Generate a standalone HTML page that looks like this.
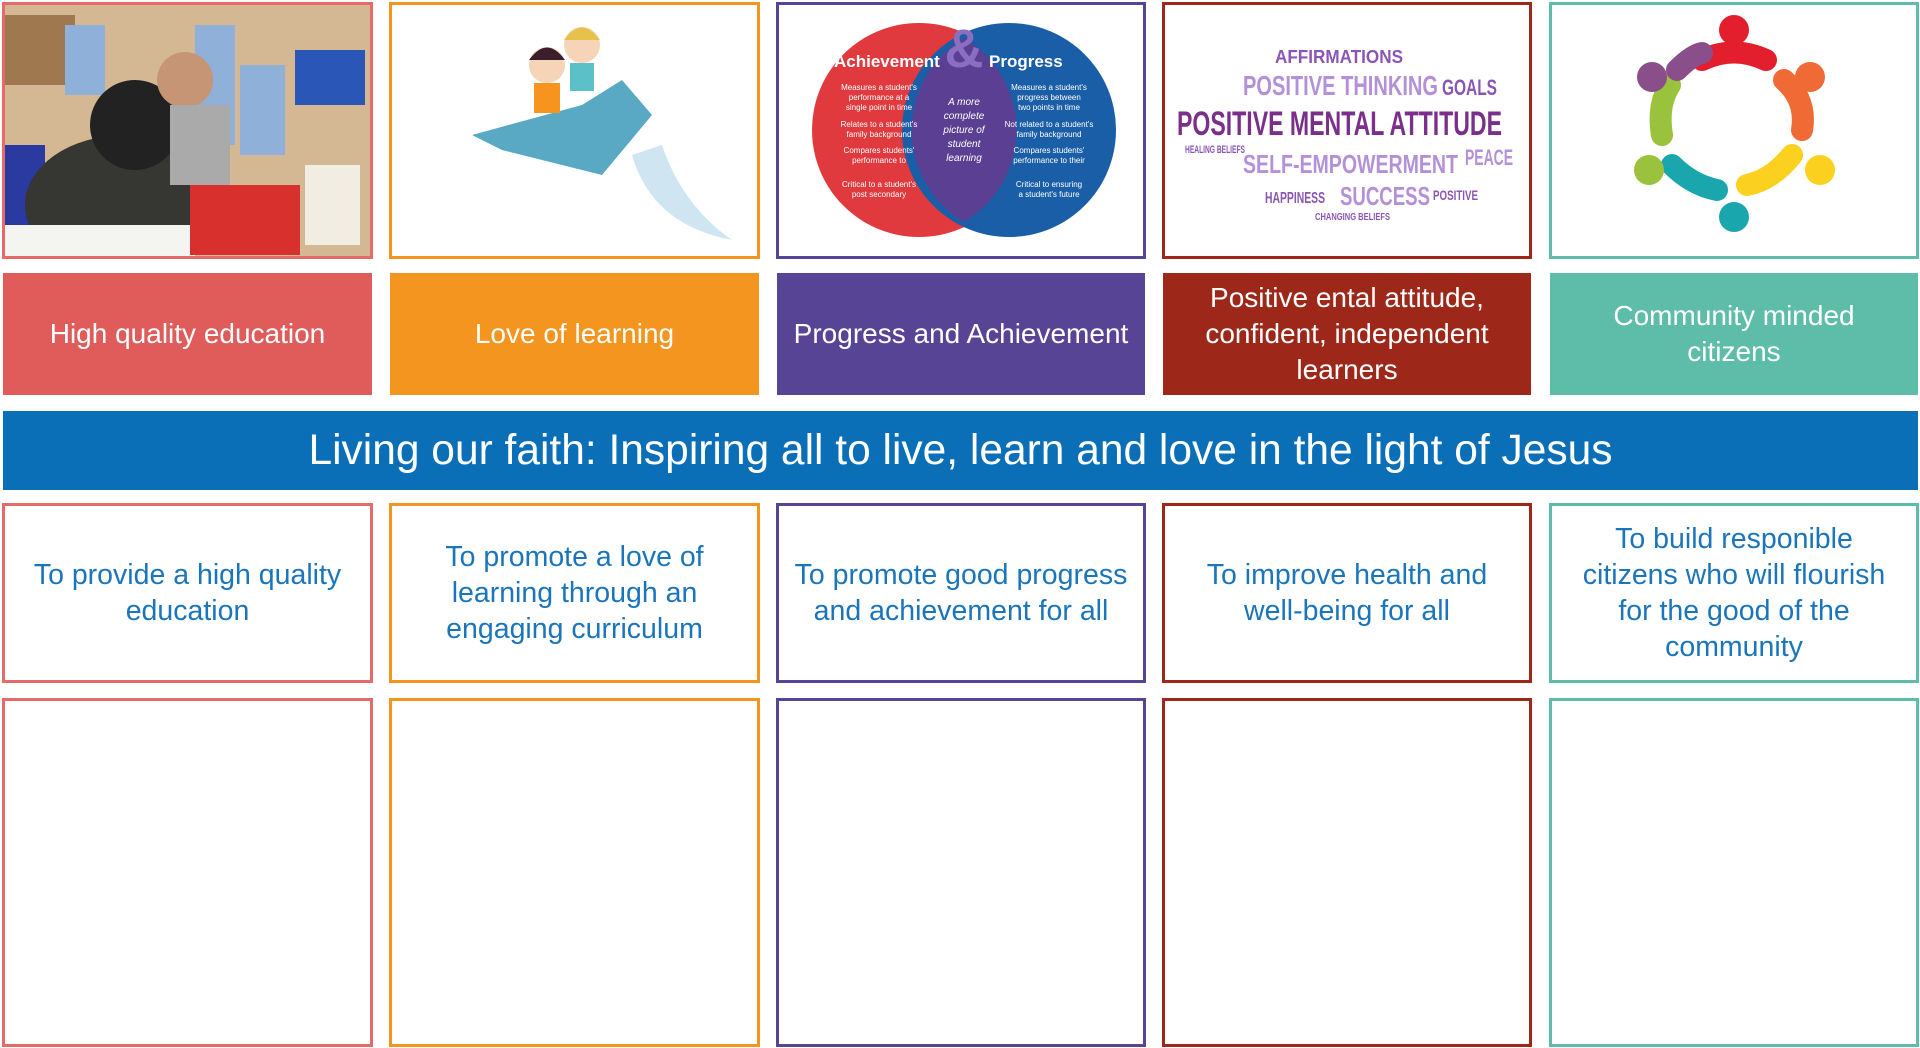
<!DOCTYPE html>
<html><head><meta charset="utf-8"><style>
*{margin:0;padding:0;box-sizing:border-box}
body{width:1920px;height:1048px;background:#fff;position:relative;overflow:hidden;font-family:"Liberation Sans",sans-serif}
.b{position:absolute;border:3px solid}
.lab{position:absolute;color:#fff;font-size:28px;display:flex;align-items:center;justify-content:center;text-align:center;line-height:36px;white-space:nowrap}
.tx{position:absolute;border:3px solid;color:#1b75bb;font-size:28.5px;display:flex;align-items:center;justify-content:center;text-align:center;line-height:36px;white-space:nowrap;background:#fff}
</style></head><body>
<div class="b" style="left:2px;top:2px;width:371px;height:257px;border-color:#e56b6b">
<svg width="365" height="251" style="position:absolute;left:0;top:0">
<rect x="0" y="0" width="365" height="251" fill="#d4b894"/>
<rect x="0" y="10" width="70" height="70" fill="#a07850"/>
<rect x="60" y="20" width="40" height="70" fill="#8fb0d8"/>
<rect x="190" y="20" width="40" height="120" fill="#8fb0d8"/>
<rect x="235" y="60" width="45" height="90" fill="#8fb0d8"/>
<rect x="290" y="45" width="70" height="55" fill="#2a56b8"/>
<rect x="0" y="140" width="40" height="110" fill="#2a3aa0"/>
<ellipse cx="120" cy="200" rx="100" ry="70" fill="#363633"/>
<circle cx="130" cy="120" r="45" fill="#222"/>
<circle cx="180" cy="75" r="28" fill="#c69575"/>
<rect x="165" y="100" width="60" height="80" fill="#aaa"/>
<rect x="0" y="220" width="190" height="31" fill="#f4f4f0"/>
<rect x="185" y="180" width="110" height="70" fill="#d8302c"/>
<rect x="300" y="160" width="55" height="80" fill="#f2ede2"/>
</svg></div>
<div class="b" style="left:389px;top:2px;width:371px;height:257px;border-color:#f3951f">
<svg width="365" height="251" style="position:absolute;left:0;top:0">
<path d="M80 130 L190 100 L230 75 L260 110 L210 170 L110 145Z" fill="#5aa9c4"/>
<path d="M240 150 Q260 220 340 235 Q290 200 270 140Z" fill="#cfe6f2"/>
<circle cx="155" cy="60" r="18" fill="#f6d4b8"/><path d="M137 55 Q155 30 173 55Z" fill="#3a1f2a"/>
<rect x="142" y="78" width="26" height="30" fill="#f7941d"/>
<circle cx="190" cy="40" r="18" fill="#f6d4b8"/><path d="M172 35 Q190 10 208 35Z" fill="#e7c24a"/>
<rect x="178" y="58" width="24" height="28" fill="#5bc0c8"/>
</svg></div>
<div class="b" style="left:776px;top:2px;width:370px;height:257px;border-color:#574495">
<svg width="364" height="251" style="position:absolute;left:0;top:0">
<circle cx="140" cy="125" r="107" fill="#e03a3e"/>
<circle cx="230" cy="125" r="107" fill="#1a5ea8"/>
<path d="M185 33 A107 107 0 0 1 185 217 A107 107 0 0 1 185 33Z" fill="#5a3f92"/>
<text x="185" y="62" font-size="54" fill="#8a6fc0" text-anchor="middle" font-weight="bold">&amp;</text>
<text x="55" y="62" font-size="17" fill="#fff" font-weight="bold">Achievement</text>
<text x="210" y="62" font-size="17" fill="#fff" font-weight="bold">Progress</text>
<g font-size="8" fill="#fff" text-anchor="middle">
<text x="100" y="85">Measures a student's</text><text x="100" y="95">performance at a</text><text x="100" y="105">single point in time</text>
<text x="100" y="122">Relates to a student's</text><text x="100" y="132">family background</text>
<text x="100" y="148">Compares students'</text><text x="100" y="158">performance to</text>
<text x="100" y="182">Critical to a student's</text><text x="100" y="192">post secondary</text>
<text x="270" y="85">Measures a student's</text><text x="270" y="95">progress between</text><text x="270" y="105">two points in time</text>
<text x="270" y="122">Not related to a student's</text><text x="270" y="132">family background</text>
<text x="270" y="148">Compares students'</text><text x="270" y="158">performance to their</text>
<text x="270" y="182">Critical to ensuring</text><text x="270" y="192">a student's future</text>
</g>
<g font-size="10" fill="#fff" font-style="italic" text-anchor="middle">
<text x="185" y="100">A more</text><text x="185" y="114">complete</text><text x="185" y="128">picture of</text><text x="185" y="142">student</text><text x="185" y="156">learning</text></g>
</svg></div>
<div class="b" style="left:1162px;top:2px;width:370px;height:257px;border-color:#9d2819">
<svg width="364" height="251" style="position:absolute;left:0;top:0" font-family="Liberation Sans Narrow,Liberation Sans,sans-serif" font-weight="bold">
<text x="110" y="58" font-size="18" fill="#8a55b5" textLength="128" lengthAdjust="spacingAndGlyphs">AFFIRMATIONS</text>
<text x="78" y="90" font-size="28" fill="#b490d8" textLength="195" lengthAdjust="spacingAndGlyphs">POSITIVE THINKING</text>
<text x="277" y="90" font-size="22" fill="#8a55b5" textLength="55" lengthAdjust="spacingAndGlyphs">GOALS</text>
<text x="12" y="130" font-size="34" fill="#7a2f8a" textLength="325" lengthAdjust="spacingAndGlyphs">POSITIVE MENTAL ATTITUDE</text>
<text x="78" y="168" font-size="26" fill="#b490d8" textLength="215" lengthAdjust="spacingAndGlyphs">SELF-EMPOWERMENT</text>
<text x="300" y="160" font-size="22" fill="#b490d8" textLength="48" lengthAdjust="spacingAndGlyphs">PEACE</text>
<text x="100" y="198" font-size="16" fill="#8a55b5" textLength="60" lengthAdjust="spacingAndGlyphs">HAPPINESS</text>
<text x="175" y="200" font-size="26" fill="#b490d8" textLength="90" lengthAdjust="spacingAndGlyphs">SUCCESS</text>
<text x="268" y="195" font-size="14" fill="#8a55b5" textLength="45" lengthAdjust="spacingAndGlyphs">POSITIVE</text>
<text x="20" y="148" font-size="11" fill="#8a55b5" textLength="60" lengthAdjust="spacingAndGlyphs">HEALING BELIEFS</text>
<text x="150" y="215" font-size="10" fill="#8a55b5" textLength="75" lengthAdjust="spacingAndGlyphs">CHANGING BELIEFS</text>
</svg></div>
<div class="b" style="left:1549px;top:2px;width:370px;height:257px;border-color:#5dbda9">
<svg width="364" height="251" style="position:absolute;left:0;top:0">
<g fill="none" stroke-width="22" stroke-linecap="round">
<path d="M150 55 Q182 40 214 55" stroke="#e31e2d"/>
<path d="M232 75 Q255 95 250 125" stroke="#f06a35"/>
<path d="M240 150 Q220 175 195 180" stroke="#fbd01f"/>
<path d="M165 185 Q140 180 120 160" stroke="#1aa6ad"/>
<path d="M110 130 Q105 100 118 80" stroke="#9ac23c"/>
<path d="M125 65 Q140 50 150 48" stroke="#8a4f8a"/>
</g>
<circle cx="182" cy="25" r="15" fill="#e31e2d"/><circle cx="258" cy="72" r="15" fill="#f06a35"/>
<circle cx="268" cy="165" r="15" fill="#fbd01f"/><circle cx="182" cy="212" r="15" fill="#1aa6ad"/>
<circle cx="97" cy="165" r="15" fill="#9ac23c"/><circle cx="100" cy="72" r="15" fill="#8a4f8a"/>
</svg></div>
<div class="lab" style="left:3px;top:273px;width:369px;height:122px;background:#e05c5a">High quality education</div>
<div class="lab" style="left:390px;top:273px;width:369px;height:122px;background:#f3951f">Love of learning</div>
<div class="lab" style="left:777px;top:273px;width:368px;height:122px;background:#574495">Progress and Achievement</div>
<div class="lab" style="left:1163px;top:273px;width:368px;height:122px;background:#9d2819">Positive ental attitude,<br>confident, independent<br>learners</div>
<div class="lab" style="left:1550px;top:273px;width:368px;height:122px;background:#5dbda9">Community minded<br>citizens</div>
<div style="position:absolute;left:3px;top:411px;width:1915px;height:79px;background:#0b6fb7;color:#fff;font-size:42.5px;display:flex;align-items:center;justify-content:center;white-space:nowrap">Living our faith: Inspiring all to live, learn and love in the light of Jesus</div>
<div class="tx" style="left:2px;top:503px;width:371px;height:180px;border-color:#e56b6b">To provide a high quality<br>education</div>
<div class="tx" style="left:389px;top:503px;width:371px;height:180px;border-color:#f3951f">To promote a love of<br>learning through an<br>engaging curriculum</div>
<div class="tx" style="left:776px;top:503px;width:370px;height:180px;border-color:#574495">To promote good progress<br>and achievement for all</div>
<div class="tx" style="left:1162px;top:503px;width:370px;height:180px;border-color:#9d2819">To improve health and<br>well-being for all</div>
<div class="tx" style="left:1549px;top:503px;width:370px;height:180px;border-color:#5dbda9">To build responible<br>citizens who will flourish<br>for the good of the<br>community</div>
<div class="b" style="left:2px;top:698px;width:371px;height:349px;border-color:#e56b6b"></div>
<div class="b" style="left:389px;top:698px;width:371px;height:349px;border-color:#f3951f"></div>
<div class="b" style="left:776px;top:698px;width:370px;height:349px;border-color:#574495"></div>
<div class="b" style="left:1162px;top:698px;width:370px;height:349px;border-color:#9d2819"></div>
<div class="b" style="left:1549px;top:698px;width:370px;height:349px;border-color:#5dbda9"></div>
</body></html>
